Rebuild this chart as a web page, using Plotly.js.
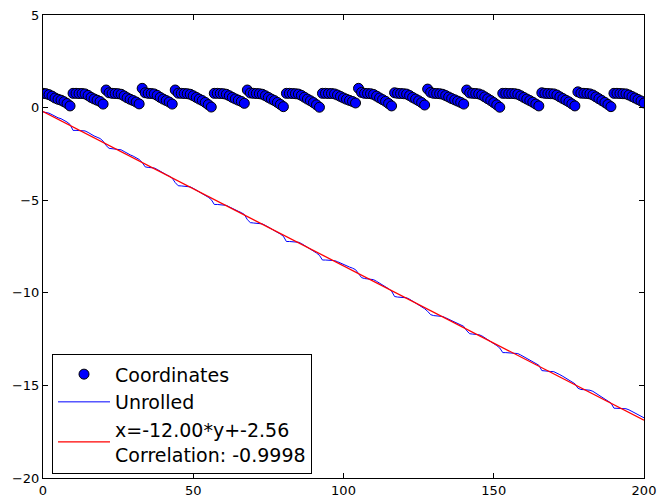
<!DOCTYPE html>
<html>
<head>
<meta charset="utf-8">
<script src="https://cdn.plot.ly/plotly-3.0.1.min.js"></script>
<style>html,body{margin:0;padding:0;background:#fff;}#chart{width:663px;height:499px;}</style>
</head>
<body>
<div id="chart"></div>
<script>
// Sample index (x) 0..200
const coordinates = [
  0.77,0.75,0.70,0.62,0.52,0.45,0.40,0.32,0.22,0.09,
  0.77,0.77,0.76,0.76,0.74,0.66,0.55,0.47,0.40,0.33,0.19,
  0.95,0.80,0.77,0.76,0.75,0.72,0.63,0.53,0.45,0.38,0.30,0.20,
  1.04,0.80,0.77,0.76,0.74,0.66,0.55,0.46,0.38,0.30,0.19,
  0.95,0.78,0.77,0.76,0.75,0.72,0.64,0.55,0.46,0.38,0.28,0.16,0.03,
  0.77,0.77,0.76,0.75,0.72,0.64,0.55,0.47,0.40,0.33,0.23,
  0.95,0.79,0.77,0.76,0.75,0.72,0.64,0.55,0.46,0.38,0.28,0.17,0.05,
  0.77,0.77,0.76,0.75,0.73,0.66,0.56,0.46,0.37,0.27,0.15,0.02,
  0.77,0.77,0.76,0.76,0.74,0.68,0.60,0.52,0.45,0.39,0.33,0.25,
  1.04,0.82,0.77,0.76,0.75,0.71,0.62,0.52,0.43,0.34,0.22,0.09,
  0.80,0.77,0.76,0.75,0.73,0.65,0.55,0.46,0.37,0.27,0.14,
  1.00,0.82,0.77,0.76,0.75,0.72,0.65,0.57,0.49,0.42,0.35,0.28,0.19,
  0.95,0.79,0.77,0.76,0.74,0.68,0.58,0.48,0.38,0.27,0.15,0.02,
  0.77,0.77,0.76,0.76,0.75,0.72,0.64,0.55,0.46,0.38,0.29,0.19,0.09,
  0.80,0.77,0.76,0.75,0.74,0.68,0.58,0.49,0.40,0.31,0.20,0.09,
  0.85,0.78,0.77,0.76,0.74,0.68,0.58,0.48,0.38,0.28,0.17,0.05,
  0.77,0.77,0.76,0.75,0.74,0.68,0.60,0.52,0.44,0.36,0.25
];
const unrolled = [
  -0.23,-0.25,-0.30,-0.38,-0.48,-0.55,-0.60,-0.68,-0.78,-0.91,
  -1.23,-1.23,-1.24,-1.24,-1.26,-1.34,-1.45,-1.53,-1.60,-1.67,-1.81,
  -2.05,-2.20,-2.23,-2.24,-2.25,-2.28,-2.37,-2.47,-2.55,-2.62,-2.70,-2.80,
  -2.96,-3.20,-3.23,-3.24,-3.26,-3.34,-3.45,-3.54,-3.62,-3.70,-3.81,
  -4.05,-4.22,-4.23,-4.24,-4.25,-4.28,-4.36,-4.45,-4.54,-4.62,-4.72,-4.84,-4.97,
  -5.23,-5.23,-5.24,-5.25,-5.28,-5.36,-5.45,-5.53,-5.60,-5.67,-5.77,
  -6.05,-6.21,-6.23,-6.24,-6.25,-6.28,-6.36,-6.45,-6.54,-6.62,-6.72,-6.83,-6.95,
  -7.23,-7.23,-7.24,-7.25,-7.27,-7.34,-7.44,-7.54,-7.63,-7.73,-7.85,-7.98,
  -8.23,-8.23,-8.24,-8.24,-8.26,-8.32,-8.40,-8.48,-8.55,-8.61,-8.67,-8.75,
  -8.96,-9.18,-9.23,-9.24,-9.25,-9.29,-9.38,-9.48,-9.57,-9.66,-9.78,-9.91,
  -10.20,-10.23,-10.24,-10.25,-10.27,-10.35,-10.45,-10.54,-10.63,-10.73,-10.86,
  -11.00,-11.18,-11.23,-11.24,-11.25,-11.28,-11.35,-11.43,-11.51,-11.58,-11.65,-11.72,-11.81,
  -12.05,-12.21,-12.23,-12.24,-12.26,-12.32,-12.42,-12.52,-12.62,-12.73,-12.85,-12.98,
  -13.23,-13.23,-13.24,-13.24,-13.25,-13.28,-13.36,-13.45,-13.54,-13.62,-13.71,-13.81,-13.91,
  -14.20,-14.23,-14.24,-14.25,-14.26,-14.32,-14.42,-14.51,-14.60,-14.69,-14.80,-14.91,
  -15.15,-15.22,-15.23,-15.24,-15.26,-15.32,-15.42,-15.52,-15.62,-15.72,-15.83,-15.95,
  -16.23,-16.23,-16.24,-16.25,-16.26,-16.32,-16.40,-16.48,-16.56,-16.64,-16.75
];
const sampleX = coordinates.map((_, i) => i);
const fitX = [0, 200];
const fitY = [-0.213, -16.88];
const fitLabel = "x=-12.00*y+-2.56<br>Correlation: -0.9998";
const xTicks = [0, 50, 100, 150, 200];
const yTicks = [5, 0, -5, -10, -15, -20];

const traces = [
  {x: sampleX, y: coordinates, type: 'scatter', mode: 'markers', name: 'Coordinates',
   marker: {color: '#0000ff', size: 10, line: {color: '#000000', width: 1}}},
  {x: sampleX, y: unrolled, type: 'scatter', mode: 'lines', name: 'Unrolled',
   line: {color: '#0000ff', width: 1}},
  {x: fitX, y: fitY, type: 'scatter', mode: 'lines', name: fitLabel,
   line: {color: '#ff0000', width: 1.3}}
];

const axisCommon = {
  showgrid: false, zeroline: false, showline: true, linecolor: '#000', linewidth: 1,
  mirror: 'allticks', ticks: 'inside', ticklen: 5, tickwidth: 1, tickcolor: '#000',
  tickfont: {family: 'DejaVu Sans', size: 13, color: '#000'}
};

const layout = {
  width: 663, height: 499,
  margin: {l: 43, r: 19, t: 15, b: 21, pad: 0},
  paper_bgcolor: '#fff', plot_bgcolor: '#fff',
  font: {family: 'DejaVu Sans', color: '#000'},
  showlegend: true,
  legend: {x: 0.015, y: 0.008, xanchor: 'left', yanchor: 'bottom',
    bgcolor: '#fff', bordercolor: '#000', borderwidth: 1, itemwidth: 52,
    font: {family: 'DejaVu Sans', size: 19, color: '#000'}},
  xaxis: Object.assign({}, axisCommon, {range: [0, 200], tickvals: xTicks, ticktext: xTicks.map(String)}),
  yaxis: Object.assign({}, axisCommon, {range: [-20, 5], tickvals: yTicks})
};

Plotly.newPlot('chart', traces, layout, {displayModeBar: false, staticPlot: true});
</script>
</body>
</html>
